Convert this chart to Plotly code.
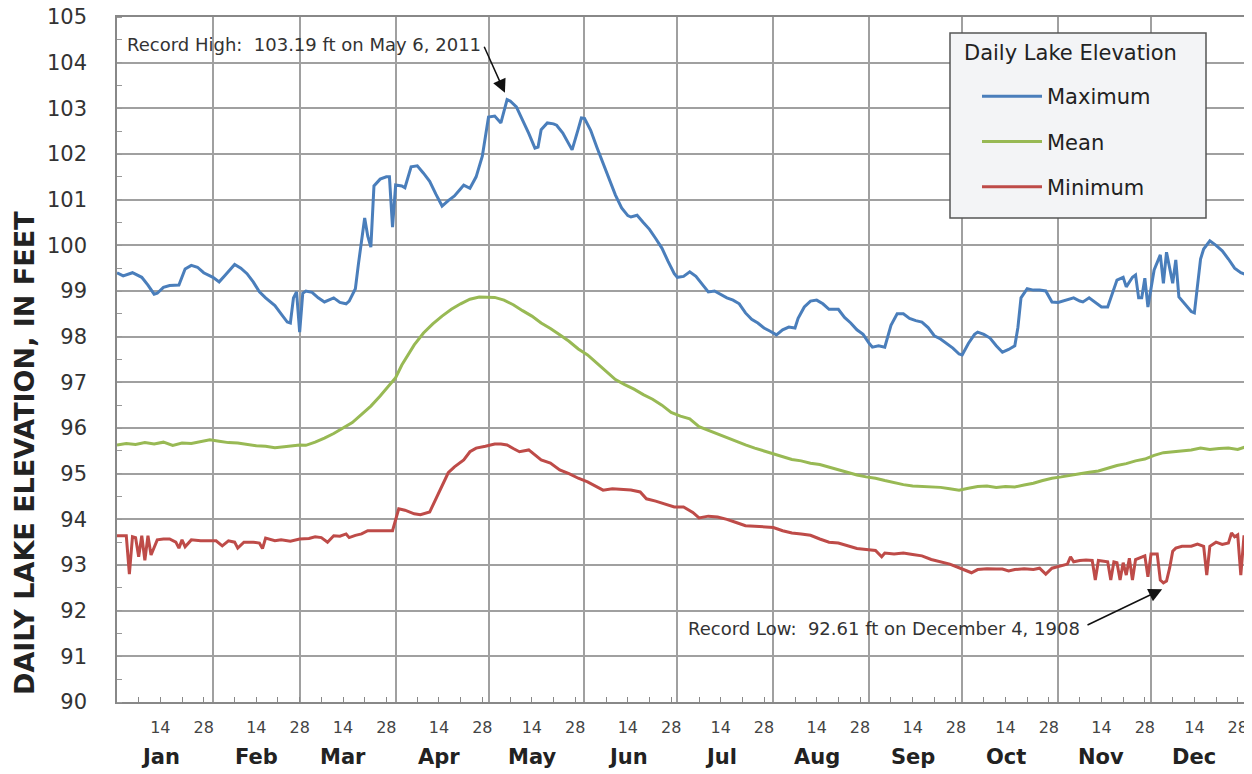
import plotly.graph_objects as go

# ---------------- data (day of year, feet) ----------------
MONTHS = ["Jan", "Feb", "Mar", "Apr", "May", "Jun", "Jul", "Aug", "Sep", "Oct", "Nov", "Dec"]
MONTH_LENGTHS = [31, 28, 31, 30, 31, 30, 31, 31, 30, 31, 30, 31]
DAY_TICKS = [7, 14, 21, 28]
DAY_TICK_TEXT = ["", "14", "", "28"]
Y_TICKS = list(range(90, 106))

MAX_DAYS = [0, 2, 5, 8, 10, 12, 13, 15, 17, 20, 22, 24, 26, 28, 31, 33, 35, 38, 40, 42, 44, 46, 48, 51, 53, 55,
            56, 57, 58, 59, 60, 61, 63, 65, 67, 69, 70, 72, 74, 75, 77, 78, 80, 81, 82, 83, 85, 87, 88, 89, 90,
            92, 93, 95, 97, 99, 101, 103, 105, 107, 109, 111, 112, 114, 116, 118, 119, 120, 122, 124, 126, 127,
            129, 131, 133, 135, 136, 137, 139, 141, 142, 144, 146, 147, 149, 150, 151, 153, 155, 157, 159, 161,
            163, 165, 166, 168, 170, 172, 174, 176, 178, 180, 181, 183, 185, 187, 189, 191, 193, 195, 197, 199,
            201, 203, 205, 207, 209, 211, 213, 215, 217, 219, 220, 222, 224, 226, 228, 230, 233, 235, 237, 239,
            241, 243, 244, 246, 248, 250, 252, 254, 256, 258, 260, 262, 264, 266, 268, 270, 272, 273, 275, 277,
            278, 280, 282, 284, 286, 288, 290, 291, 292, 294, 296, 298, 300, 302, 304, 307, 309, 311, 312, 314,
            316, 318, 320, 322, 323, 325, 326, 328, 329, 330, 331, 332, 333, 335, 337, 338, 339, 341, 342, 343,
            345, 347, 348, 350, 351, 353, 355, 357, 359, 361, 363, 365]
MAX_VALUES = [99.40, 99.33, 99.40, 99.30, 99.13, 98.93, 98.95, 99.08, 99.12, 99.13, 99.48, 99.56, 99.52, 99.40,
              99.30, 99.20, 99.35, 99.58, 99.50, 99.38, 99.20, 98.98, 98.85, 98.68, 98.50, 98.32, 98.30, 98.85,
              98.98, 98.10, 98.95, 99.00, 98.97, 98.85, 98.76, 98.82, 98.85, 98.75, 98.72, 98.78, 99.05, 99.60,
              100.60, 100.20, 99.96, 101.30, 101.45, 101.50, 101.50, 100.40, 101.32, 101.30, 101.26, 101.72,
              101.74, 101.58, 101.40, 101.12, 100.86, 100.98, 101.08, 101.24, 101.32, 101.25, 101.50, 101.95,
              102.40, 102.81, 102.83, 102.68, 103.19, 103.16, 103.03, 102.75, 102.45, 102.13, 102.15, 102.53,
              102.68, 102.66, 102.63, 102.46, 102.20, 102.09, 102.55, 102.79, 102.78, 102.52, 102.15, 101.80,
              101.45, 101.10, 100.82, 100.65, 100.62, 100.66, 100.50, 100.35, 100.15, 99.94, 99.65, 99.38, 99.30,
              99.32, 99.42, 99.32, 99.15, 98.98, 99.00, 98.92, 98.85, 98.80, 98.72, 98.52, 98.38, 98.30, 98.19,
              98.12, 98.04, 98.15, 98.21, 98.19, 98.40, 98.65, 98.78, 98.80, 98.72, 98.60, 98.60, 98.42, 98.30,
              98.15, 98.05, 97.85, 97.77, 97.80, 97.77, 98.25, 98.50, 98.50, 98.40, 98.35, 98.32, 98.20, 98.02,
              97.95, 97.85, 97.75, 97.62, 97.60, 97.85, 98.05, 98.10, 98.05, 97.97, 97.80, 97.66, 97.72, 97.80,
              98.20, 98.85, 99.05, 99.02, 99.02, 99.00, 98.76, 98.75, 98.80, 98.85, 98.78, 98.76, 98.85, 98.75,
              98.65, 98.65, 99.05, 99.24, 99.30, 99.09, 99.30, 99.35, 98.85, 98.85, 99.28, 98.65, 99.46, 99.79,
              99.17, 99.85, 99.17, 99.68, 98.87, 98.70, 98.55, 98.52, 99.70, 99.92, 100.10, 100.00, 99.88, 99.70,
              99.50, 99.40, 99.35]

MEAN_DAYS = [0, 3, 6, 9, 12, 15, 18, 21, 24, 27, 30, 33, 36, 39, 42, 45, 48, 51, 54, 57, 59, 61, 64, 67, 70, 73,
             76, 79, 82, 85, 88, 90, 92, 94, 96, 99, 102, 105, 108, 111, 114, 117, 120, 122, 125, 128, 131, 134,
             137, 140, 143, 146, 149, 152, 155, 158, 161, 164, 167, 170, 173, 176, 179, 182, 185, 188, 191, 194,
             197, 200, 203, 206, 209, 212, 215, 218, 221, 224, 227, 230, 233, 236, 239, 242, 245, 248, 251, 254,
             257, 260, 263, 266, 269, 272, 275, 278, 281, 284, 287, 290, 293, 296, 299, 302, 305, 308, 311, 314,
             317, 320, 323, 326, 329, 332, 335, 338, 341, 344, 347, 350, 353, 356, 359, 362, 365]
MEAN_VALUES = [95.63, 95.66, 95.64, 95.68, 95.65, 95.69, 95.62, 95.67, 95.66, 95.70, 95.74, 95.71, 95.68, 95.67,
               95.64, 95.61, 95.60, 95.57, 95.59, 95.61, 95.63, 95.62, 95.69, 95.78, 95.88, 96.00, 96.12, 96.30,
               96.48, 96.70, 96.95, 97.10, 97.38, 97.60, 97.82, 98.08, 98.28, 98.45, 98.60, 98.72, 98.82, 98.87,
               98.86, 98.86, 98.80, 98.70, 98.57, 98.45, 98.30, 98.18, 98.04, 97.90, 97.73, 97.60, 97.42, 97.25,
               97.06, 96.95, 96.85, 96.73, 96.63, 96.50, 96.34, 96.26, 96.20, 96.03, 95.95, 95.87, 95.78, 95.70,
               95.63, 95.56, 95.50, 95.44, 95.38, 95.31, 95.28, 95.23, 95.20, 95.14, 95.08, 95.03, 94.97, 94.93,
               94.90, 94.85, 94.80, 94.76, 94.73, 94.72, 94.71, 94.70, 94.67, 94.64, 94.68, 94.72, 94.73, 94.70,
               94.72, 94.71, 94.75, 94.79, 94.85, 94.90, 94.93, 94.97, 95.00, 95.03, 95.06, 95.12, 95.18, 95.22,
               95.28, 95.32, 95.40, 95.46, 95.48, 95.50, 95.52, 95.56, 95.53, 95.55, 95.56, 95.53, 95.60]

MIN_DAYS = [0, 3, 4, 5, 6, 7, 8, 9, 10, 11, 13, 15, 17, 19, 20, 21, 22, 24, 27, 30, 32, 34, 36, 38, 39, 41, 44,
            46, 47, 48, 51, 53, 56, 59, 62, 64, 66, 68, 70, 72, 74, 75, 77, 79, 81, 85, 89, 91, 93, 96, 98, 101,
            103, 105, 107, 109, 112, 114, 116, 119, 122, 124, 126, 128, 130, 133, 135, 137, 140, 143, 146, 149,
            152, 155, 157, 160, 163, 166, 169, 171, 174, 177, 180, 183, 186, 188, 191, 194, 197, 200, 203, 206,
            209, 212, 215, 218, 221, 224, 227, 230, 233, 236, 239, 242, 245, 247, 248, 251, 254, 257, 260, 263,
            266, 269, 272, 274, 276, 278, 281, 284, 286, 288, 290, 293, 296, 298, 300, 302, 305, 307, 308, 309,
            311, 313, 315, 316, 317, 319, 320, 321, 322, 323, 324, 325, 326, 327, 328, 329, 330, 332, 333, 334,
            336, 337, 338, 339, 340, 341, 342, 344, 347, 349, 351, 352, 353, 355, 357, 359, 360, 361, 362, 363,
            364, 365]
MIN_VALUES = [93.64, 93.64, 92.80, 93.62, 93.60, 93.18, 93.64, 93.10, 93.64, 93.22, 93.55, 93.57, 93.57, 93.50,
              93.37, 93.55, 93.40, 93.55, 93.53, 93.53, 93.53, 93.42, 93.53, 93.50, 93.37, 93.50, 93.50, 93.48,
              93.36, 93.59, 93.53, 93.55, 93.52, 93.57, 93.58, 93.62, 93.60, 93.50, 93.64, 93.63, 93.68, 93.60,
              93.65, 93.68, 93.75, 93.75, 93.75, 94.23, 94.20, 94.12, 94.10, 94.16, 94.45, 94.75, 95.02, 95.15,
              95.30, 95.48, 95.56, 95.60, 95.65, 95.65, 95.63, 95.55, 95.48, 95.52, 95.40, 95.30, 95.23, 95.08,
              95.00, 94.90, 94.82, 94.72, 94.64, 94.67, 94.66, 94.64, 94.60, 94.45, 94.40, 94.33, 94.27, 94.27,
              94.15, 94.03, 94.07, 94.05, 94.00, 93.93, 93.86, 93.85, 93.84, 93.82, 93.75, 93.70, 93.68, 93.65,
              93.57, 93.50, 93.48, 93.42, 93.36, 93.34, 93.32, 93.18, 93.26, 93.24, 93.26, 93.23, 93.20, 93.12,
              93.07, 93.02, 92.94, 92.88, 92.83, 92.90, 92.92, 92.91, 92.91, 92.87, 92.90, 92.92, 92.90, 92.93,
              92.80, 92.93, 92.98, 93.02, 93.18, 93.07, 93.10, 93.11, 93.10, 92.67, 93.10, 93.07, 93.07, 92.67,
              93.07, 93.05, 92.67, 93.05, 92.78, 93.15, 92.67, 93.12, 93.15, 93.20, 92.74, 93.24, 93.24, 92.67,
              92.61, 92.65, 92.93, 93.30, 93.37, 93.41, 93.41, 93.46, 93.41, 92.78, 93.41, 93.50, 93.45, 93.48,
              93.70, 93.62, 93.66, 92.78, 93.62, 93.62]

HIGH_TEXT = "Record High:  103.19 ft on May 6, 2011"
LOW_TEXT = "Record Low:  92.61 ft on December 4, 1908"
LEGEND_TITLE = "Daily Lake Elevation"

# ---------------- derived axis positions ----------------
month_starts = [sum(MONTH_LENGTHS[:i]) for i in range(12)]
month_ends = [s + n for s, n in zip(month_starts, MONTH_LENGTHS)]
tick_vals, tick_text = [], []
for s in month_starts:
    for d, t in zip(DAY_TICKS, DAY_TICK_TEXT):
        tick_vals.append(s + d)
        tick_text.append(t)

FONT = "DejaVu Sans"
BLUE, GREEN, RED = "#4a7ebb", "#98b954", "#be4b48"
GRID = "#a0a0a0"

# page body has an 8px margin: figure is sized/offset so the plot area sits at page px 117..1247 x 17..702
PAGE_OFF = 8
PLOT_L, PLOT_R, PLOT_T, PLOT_B = 117, 1247, 17, 702
FIG_W, FIG_H = 1252 - PAGE_OFF, 774 - PAGE_OFF

fig = go.Figure()
fig.add_trace(go.Scatter(x=MAX_DAYS, y=MAX_VALUES, mode="lines", name="Maximum", legendgroup="a",
                         line=dict(color=BLUE, width=3)))
fig.add_trace(go.Scatter(x=MEAN_DAYS, y=MEAN_VALUES, mode="lines", name="Mean", legendgroup="b",
                         line=dict(color=GREEN, width=3)))
fig.add_trace(go.Scatter(x=MIN_DAYS, y=MIN_VALUES, mode="lines", name="Minimum", legendgroup="c",
                         line=dict(color=RED, width=3)))

fig.update_xaxes(
    range=[0, 365], tickmode="array", tickvals=tick_vals, ticktext=tick_text, automargin=False,
    ticks="inside", ticklen=5, tickcolor="#888", tickwidth=1, ticklabeloverflow="allow",
    showgrid=False, showline=True, linecolor="#888", linewidth=1.5, mirror=True,
    tickfont=dict(family=FONT, size=16, color="#444"), ticklabelstandoff=10,
    minor=dict(tickmode="array", tickvals=month_ends, showgrid=True, gridcolor=GRID, gridwidth=1.5, ticks=""),
    zeroline=False,
)
fig.update_yaxes(
    range=[90, 105], tickmode="array", tickvals=Y_TICKS, ticks="", automargin=False,
    ticklabeloverflow="allow",
    showgrid=True, gridcolor=GRID, gridwidth=1.5,
    showline=True, linecolor="#888", linewidth=1.5, mirror=True,
    tickfont=dict(family=FONT, size=21, color="#333"), ticklabelstandoff=24,
    minor=dict(dtick=0.5, ticks="inside", ticklen=5, tickcolor="#999", showgrid=False),
    zeroline=False,
)


def px_x(p):
    return (p - PLOT_L) / float(PLOT_R - PLOT_L)


def px_y(p):
    return (PLOT_B - p) / float(PLOT_B - PLOT_T)


annotations = []
for m, s in zip(MONTHS, month_starts):
    annotations.append(dict(x=s + 14, y=0, xref="x", yref="paper", yanchor="middle", yshift=-55,
                            text="<b>" + m + "</b>", showarrow=False,
                            font=dict(family=FONT, size=21, color="#222")))
annotations.append(dict(x=0, y=px_y(453), xref="paper", yref="paper", xshift=-92, xanchor="center",
                        yanchor="middle", textangle=-90, text="<b>DAILY LAKE ELEVATION, IN FEET</b>",
                        showarrow=False, font=dict(family=FONT, size=27, color="#222")))
annotations.append(dict(x=2.6, y=104.39, xref="x", yref="y", xanchor="left", yanchor="middle",
                        text=HIGH_TEXT, showarrow=False, font=dict(family=FONT, size=18, color="#333")))
annotations.append(dict(x=125.3, y=103.34, ax=118.4, ay=104.38, xref="x", yref="y", axref="x", ayref="y",
                        text="", showarrow=True, arrowhead=2, arrowsize=1.8, arrowwidth=1.5,
                        arrowcolor="#111", standoff=0))
annotations.append(dict(x=311.7, y=91.6, xref="x", yref="y", xanchor="right", yanchor="middle",
                        text=LOW_TEXT, showarrow=False, font=dict(family=FONT, size=18, color="#333")))
annotations.append(dict(x=337.6, y=92.47, ax=313.0, ay=91.67, xref="x", yref="y", axref="x", ayref="y",
                        text="", showarrow=True, arrowhead=2, arrowsize=1.8, arrowwidth=1.5,
                        arrowcolor="#111", standoff=0))
# legend title
annotations.append(dict(x=px_x(962), y=px_y(53), xref="paper", yref="paper", xanchor="left", yanchor="middle",
                        text=LEGEND_TITLE, showarrow=False, font=dict(family=FONT, size=21, color="#222")))

shapes = [dict(type="rect", xref="paper", yref="paper", x0=px_x(950), x1=px_x(1206), y0=px_y(218),
               y1=px_y(33), fillcolor="#f3f4f6", line=dict(color="#555", width=1.5), layer="above")]

fig.update_layout(
    width=FIG_W, height=FIG_H, autosize=False,
    margin=dict(l=PLOT_L - PAGE_OFF, r=FIG_W - (PLOT_R - PAGE_OFF), t=PLOT_T - PAGE_OFF,
                b=FIG_H - (PLOT_B - PAGE_OFF)),
    paper_bgcolor="white", plot_bgcolor="white",
    font=dict(family=FONT, color="#222"),
    showlegend=True,
    legend=dict(x=px_x(977), y=px_y(76), xanchor="left", yanchor="top",
                bgcolor="rgba(0,0,0,0)", borderwidth=0,
                font=dict(family=FONT, size=21, color="#222"),
                tracegroupgap=15, itemwidth=60),
    annotations=annotations,
    shapes=shapes,
)

fig.write_html("out.html")
